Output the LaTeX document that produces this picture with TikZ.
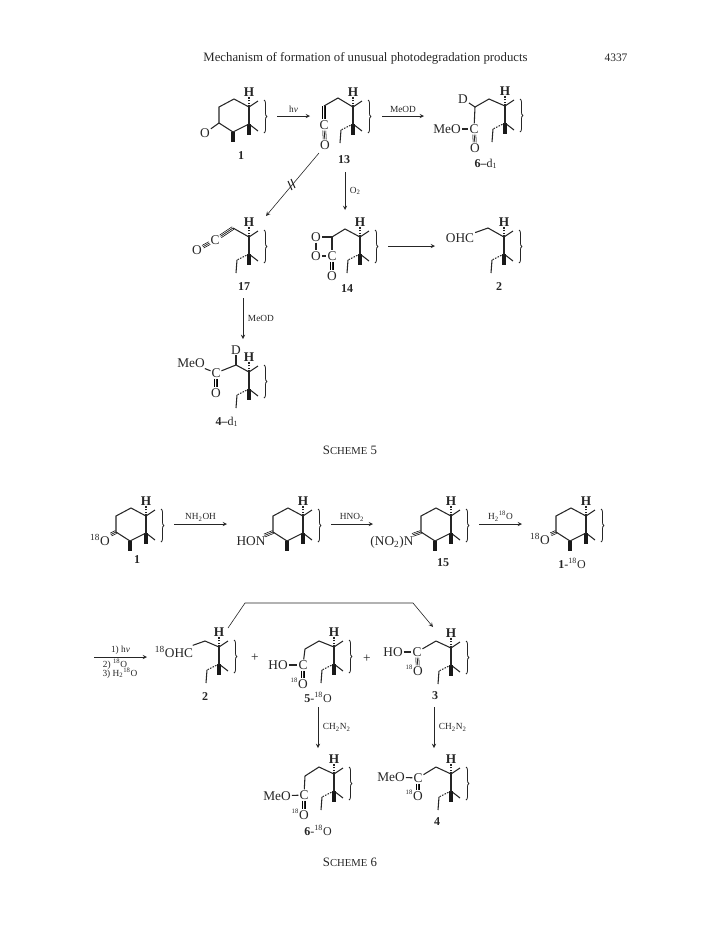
\documentclass[tikz,border=0pt]{standalone}
\usepackage{fontspec}
\setmainfont{Liberation Serif}
\usetikzlibrary{arrows.meta, positioning, calc, decorations.pathreplacing}
\tikzstyle{bond} = [line width=0.8pt, black!85]
\tikzstyle{wedge} = [line width=2.4pt, black!90]
\tikzstyle{hashb} = [line width=0.8pt, black!85, dash pattern=on 1.2pt off 0.9pt]
\tikzstyle{atom} = [inner sep=0.6pt, font=\normalsize, text=black!85]
\tikzstyle{iso} = [inner sep=0pt, font=\tiny, text=black!85]
\tikzstyle{cpd} = [inner sep=0.5pt, font=\small\bfseries, text=black!85]
\tikzstyle{rxn} = [line width=0.45pt, ->, >=stealth, black!85]
\tikzstyle{rlabel} = [inner sep=0.5pt, font=\scriptsize, text=black!85]
\tikzstyle{title} = [inner sep=0pt, font=\fontsize{9.6}{11}\selectfont, text=black!85]
\tikzset{
	dbl/.style n args={4}{line width=0.55pt, black!85,
		preaction={draw, transform canvas={shift={(#1,#2)}}},
		preaction={draw, transform canvas={shift={(#3,#4)}}}},
	dbondv/.style={dbl={1.15pt}{0pt}{-1.15pt}{0pt}},
	dbonda/.style={dbl={0.64pt}{-0.96pt}{-0.64pt}{0.96pt}},
	dbondb/.style={dbl={0.5pt}{-1.04pt}{-0.5pt}{1.04pt}},
	core/.pic={
		\coordinate (-a) at (0,0);
		\coordinate (-b) at (0,17);
		\node[atom, font=\normalsize\bfseries] (-H) at (0,-15) {H};
		\draw[hashb] (-a) -- (-H);
		\draw[bond] (-a) -- (9,-6);
		\draw[bond] (-a) -- (-b);
		\draw[bond] (-b) -- (9,24);
		\draw[wedge] (-b) -- (0,28);
		\draw[bond, line width=0.6pt, decorate, decoration={brace, amplitude=2.2pt}] (15,-7) -- (15,26);
	},
	tail/.pic={
		\draw[hashb] (0,0) -- (-12,6);
		\draw[bond] (-12,6) -- (-13,19);
	},
	ring/.pic={
		\coordinate (-k) at (-30,16);
		\coordinate (-m) at (-16,25);
		\draw[bond] (0,0) -- (-15,-8) -- (-30,0) -- (-k) -- (-m) -- (0,17);
		\draw[wedge] (-m) -- (-16,35);
	},
}
\begin{document}
\begin{tikzpicture}[x=0.75pt, y=-0.75pt]
	\useasboundingbox (0,0) rectangle (720,936);

	% Page head
	\node[title] (head) at (365.5,58) {Mechanism of formation of unusual photodegradation products};
	\node[title, font=\fontsize{8.6}{10}\selectfont] (page) at (616,58) {4337};

	% Scheme 5 - compound 1
	\pic (a1) at (249,107) {core};
	\pic (a1r) at (a1-a) {ring};
	\node[atom] (a1O) at (205,133) {O};
	\draw[bond] (a1r-k) -- (a1O);
	\node[cpd] (a1n) at (241,156) {1};

	% Scheme 5 - compound 13
	\pic (a13) at (353,107) {core};
	\pic at (a13-b) {tail};
	\draw[bond] (a13-a) -- ++(-15,-9) coordinate (a13x) -- ++(-14,8) coordinate (a13y);
	\node[atom] (a13C) at (324,125) {C};
	\node[atom] (a13O) at (325,145) {O};
	\draw[dbondv] (a13y) -- (a13C);
	\draw[dbondv] (a13C) -- (a13O);
	\node[cpd] (a13n) at (344,160) {13};

	% Scheme 5 - compound 6-d1
	\pic (a6) at (505,106) {core};
	\pic at (a6-b) {tail};
	\draw[bond] (a6-a) -- ++(-16,-7) coordinate (a6x) -- ++(-14,8) coordinate (a6y);
	\node[atom] (a6D) at (463,99) {D};
	\node[atom] (a6C) at (474,129) {C};
	\node[atom] (a6O) at (475,148) {O};
	\node[atom] (a6M) at (447,129) {MeO};
	\draw[bond] (a6y) -- (a6D);
	\draw[bond] (a6y) -- (a6C);
	\draw[dbondv] (a6C) -- (a6O);
	\draw[bond] (a6M) -- (a6C);
	\node[cpd] (a6n) at (486,164) {6\textendash{\normalfont d\textsubscript{1}}};

	% Scheme 5 - compound 17
	\pic (a17) at (249,237) {core};
	\pic at (a17-b) {tail};
	\draw[bond] (a17-a) -- ++(-16,-9) coordinate (a17x);
	\node[atom] (a17C) at (215,240) {C};
	\node[atom] (a17O) at (197,250) {O};
	\draw[dbonda] (a17x) -- (a17C);
	\draw[dbonda] (a17C) -- (a17O);
	\node[cpd] (a17n) at (244,287) {17};

	% Scheme 5 - compound 14
	\pic (a14) at (360,237) {core};
	\pic at (a14-b) {tail};
	\draw[bond] (a14-a) -- ++(-15,-8) coordinate (a14x) -- ++(-13,8) coordinate (a14y);
	\node[atom] (a14P) at (316,237) {O};
	\node[atom] (a14Q) at (316,256) {O};
	\node[atom] (a14C) at (332,256) {C};
	\node[atom] (a14O) at (332,276) {O};
	\draw[bond] (a14y) -- (a14P);
	\draw[bond] (a14P) -- (a14Q);
	\draw[bond] (a14Q) -- (a14C);
	\draw[bond] (a14y) -- (a14C);
	\draw[dbondv] (a14C) -- (a14O);
	\node[cpd] (a14n) at (347,289) {14};

	% Scheme 5 - compound 2
	\pic (a2) at (504,237) {core};
	\pic at (a2-b) {tail};
	\node[atom] (a2C) at (460,238) {OHC};
	\draw[bond] (a2-a) -- ++(-16,-9) coordinate (a2x) -- (a2C);
	\node[cpd] (a2n) at (499,287) {2};

	% Scheme 5 - compound 4-d1
	\pic (a4) at (249,372) {core};
	\pic at (a4-b) {tail};
	\draw[bond] (a4-a) -- ++(-13,-7) coordinate (a4x);
	\node[atom] (a4D) at (236,350) {D};
	\node[atom] (a4C) at (216,373) {C};
	\node[atom] (a4O) at (216,393) {O};
	\node[atom] (a4M) at (191,363) {MeO};
	\draw[bond] (a4x) -- (a4D);
	\draw[bond] (a4x) -- (a4C);
	\draw[dbondv] (a4C) -- (a4O);
	\draw[bond] (a4M) -- (a4C);
	\node[cpd] (a4n) at (227,422) {4\textendash{\normalfont d\textsubscript{1}}};

	\node[title] (s5) at (350,450) {S{\footnotesize CHEME} 5};

	% Scheme 5 - arrows
	\coordinate (r1a) at (277,116);
	\coordinate (r1b) at (310,116);
	\coordinate (r2a) at (382,116);
	\coordinate (r2b) at (424,116);
	\coordinate (r3a) at (319,153);
	\coordinate (r3b) at (266,216);
	\coordinate (r4a) at (345,172);
	\coordinate (r4b) at (345,210);
	\coordinate (r5a) at (388,246);
	\coordinate (r5b) at (435,246);
	\coordinate (r6a) at (243,298);
	\coordinate (r6b) at (243,339);
	\draw[rxn] (r1a) -- node[rlabel, above=1.5pt] (r1l) {h\textit{ν}} (r1b);
	\draw[rxn] (r2a) -- node[rlabel, above=1.5pt] (r2l) {MeOD} (r2b);
	\draw[rxn] (r3a) -- (r3b);
	\draw[bond] (288,181) -- (292,190);
	\draw[bond] (291,179) -- (295,188);
	\draw[rxn] (r4a) -- node[rlabel, right=3pt] (r4l) {O\textsubscript{2}} (r4b);
	\draw[rxn] (r5a) -- (r5b);
	\draw[rxn] (r6a) -- node[rlabel, right=3pt] (r6l) {MeOD} (r6b);

	% Scheme 6 - top row
	\pic (b1) at (146,516) {core};
	\pic (b1r) at (b1-a) {ring};
	\node[atom] (b1O) at (100,540) {\textsuperscript{18}O};
	\draw[dbondb] (b1r-k) -- (b1O);
	\node[cpd] (b1n) at (137,560) {1};

	\pic (b7) at (303,516) {core};
	\pic (b7r) at (b7-a) {ring};
	\node[atom] (b7N) at (251,541) {HON};
	\draw[dbondb] (b7r-k) -- (b7N);

	\pic (b15) at (451,516) {core};
	\pic (b15r) at (b15-a) {ring};
	\node[atom] (b15N) at (392,542) {(NO\textsubscript{2})N};
	\draw[dbondb] (b15r-k) -- (b15N);
	\node[cpd] (b15n) at (443,563) {15};

	\pic (b18) at (586,516) {core};
	\pic (b18r) at (b18-a) {ring};
	\node[atom] (b18O) at (540,539) {\textsuperscript{18}O};
	\draw[dbondb] (b18r-k) -- (b18O);
	\node[cpd] (b18n) at (572,563) {1{\normalfont -\textsuperscript{18}O}};

	% Scheme 6 - compound 2
	\pic (b2) at (219,647) {core};
	\pic at (b2-b) {tail};
	\node[atom] (b2C) at (174,652) {\textsuperscript{18}OHC};
	\draw[bond] (b2-a) -- ++(-14,-6) coordinate (b2x) -- (b2C);
	\node[cpd] (b2n) at (205,697) {2};
	\node[atom] (p1) at (255,658) {+};

	% Scheme 6 - compound 5-18O
	\pic (b5) at (334,647) {core};
	\pic at (b5-b) {tail};
	\draw[bond] (b5-a) -- ++(-15,-6) coordinate (b5x) -- ++(-14,8) coordinate (b5y);
	\node[atom] (b5C) at (303,665) {C};
	\node[atom] (b5H) at (278,665) {HO};
	\node[atom] (b5O) at (303,684) {O};
	\node[iso] (b5i) at (294,680) {18};
	\draw[bond] (b5y) -- (b5C);
	\draw[bond] (b5H) -- (b5C);
	\draw[dbondv] (b5C) -- (b5O);
	\node[cpd] (b5n) at (318,697) {5{\normalfont -\textsuperscript{18}O}};
	\node[atom] (p2) at (367,659) {+};

	% Scheme 6 - compound 3
	\pic (b3) at (451,648) {core};
	\pic at (b3-b) {tail};
	\draw[bond] (b3-a) -- ++(-15,-7) coordinate (b3x);
	\node[atom] (b3C) at (417,652) {C};
	\node[atom] (b3H) at (393,652) {HO};
	\node[atom] (b3O) at (418,671) {O};
	\node[iso] (b3i) at (409,667) {18};
	\draw[bond] (b3x) -- (b3C);
	\draw[bond] (b3H) -- (b3C);
	\draw[dbondv] (b3C) -- (b3O);
	\node[cpd] (b3n) at (435,696) {3};

	% Scheme 6 - compound 6-18O
	\pic (b6) at (334,774) {core};
	\pic at (b6-b) {tail};
	\draw[bond] (b6-a) -- ++(-15,-7) coordinate (b6x) -- ++(-14,9) coordinate (b6y);
	\node[atom] (b6C) at (304,795) {C};
	\node[atom] (b6M) at (277,796) {MeO};
	\node[atom] (b6O) at (304,815) {O};
	\node[iso] (b6i) at (295,811) {18};
	\draw[bond] (b6y) -- (b6C);
	\draw[bond] (b6M) -- (b6C);
	\draw[dbondv] (b6C) -- (b6O);
	\node[cpd] (b6n) at (318,830) {6{\normalfont -\textsuperscript{18}O}};

	% Scheme 6 - compound 4
	\pic (b4) at (451,774) {core};
	\pic at (b4-b) {tail};
	\draw[bond] (b4-a) -- ++(-15,-7) coordinate (b4x);
	\node[atom] (b4C) at (418,778) {C};
	\node[atom] (b4M) at (391,777) {MeO};
	\node[atom] (b4O) at (418,796) {O};
	\node[iso] (b4i) at (409,792) {18};
	\draw[bond] (b4x) -- (b4C);
	\draw[bond] (b4M) -- (b4C);
	\draw[dbondv] (b4C) -- (b4O);
	\node[cpd] (b4n) at (437,822) {4};

	\node[title] (s6) at (350,862) {S{\footnotesize CHEME} 6};

	% Scheme 6 - arrows
	\coordinate (q1a) at (174,524);
	\coordinate (q1b) at (227,524);
	\coordinate (q2a) at (331,524);
	\coordinate (q2b) at (373,524);
	\coordinate (q3a) at (479,524);
	\coordinate (q3b) at (522,524);
	\coordinate (q4a) at (94,657);
	\coordinate (q4b) at (147,657);
	\coordinate (q5a) at (228,628);
	\coordinate (q5b) at (245,603);
	\coordinate (q5c) at (413,603);
	\coordinate (q5d) at (433,627);
	\coordinate (q6a) at (318,707);
	\coordinate (q6b) at (318,748);
	\coordinate (q7a) at (434,707);
	\coordinate (q7b) at (434,748);
	\draw[rxn] (q1a) -- node[rlabel, above=1.5pt] (q1l) {NH\textsubscript{2}OH} (q1b);
	\draw[rxn] (q2a) -- node[rlabel, above=1.5pt] (q2l) {HNO\textsubscript{2}} (q2b);
	\draw[rxn] (q3a) -- node[rlabel, above=1.5pt] (q3l) {H\textsubscript{2}\textsuperscript{18}O} (q3b);
	\draw[rxn] (q4a) -- node[rlabel, above=1.5pt] (q4l) {1) h\textit{ν}} (q4b);
	\node[rlabel] (q4m) at (115,664) {2) \textsuperscript{18}O};
	\node[rlabel] (q4n) at (120,673) {3) H\textsubscript{2}\textsuperscript{18}O};
	\draw[rxn] (q5a) -- (q5b) -- (q5c) -- (q5d);
	\draw[rxn] (q6a) -- node[rlabel, right=3pt] (q6l) {CH\textsubscript{2}N\textsubscript{2}} (q6b);
	\draw[rxn] (q7a) -- node[rlabel, right=3pt] (q7l) {CH\textsubscript{2}N\textsubscript{2}} (q7b);

\end{tikzpicture}
\end{document}
